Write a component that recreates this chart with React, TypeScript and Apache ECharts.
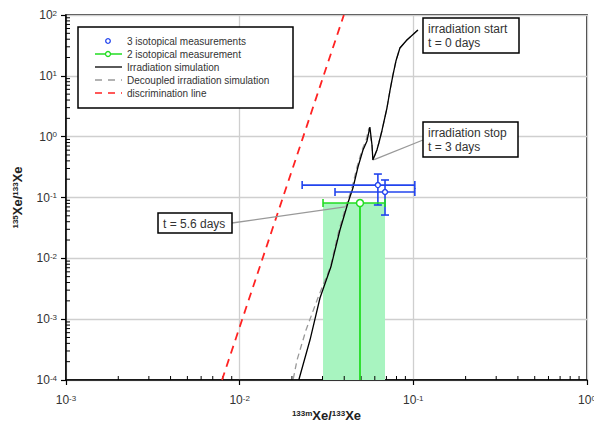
import React, { useEffect, useRef } from 'react';
import * as echarts from 'echarts';

// ---- axis decades ----
const xDecades = [-3, -2, -1, 0];
const yDecades = [-4, -3, -2, -1, 0, 1, 2];

// ---- irradiation simulation (solid black) ----
const irrX = [0.1063, 0.0918, 0.0837, 0.0794, 0.0763, 0.0733, 0.0705, 0.0659, 0.0633, 0.0617, 0.0585, 0.0578, 0.0562, 0.0541, 0.0513, 0.0480, 0.0449, 0.0420, 0.0378, 0.0335, 0.0290, 0.0254, 0.0219];
const irrY = [56.6, 38.8, 28.7, 17.5, 10.3, 5.64, 2.96, 1.24, 0.787, 0.604, 0.413, 0.730, 1.44, 0.849, 0.604, 0.317, 0.143, 0.0811, 0.0292, 0.00719, 0.00223, 0.000454, 0.0001];

// ---- decoupled irradiation simulation (grey dashed) ----
const decX = [0.1063, 0.0918, 0.0837, 0.0794, 0.0763, 0.0733, 0.0705, 0.0659, 0.0633, 0.0617, 0.0585, 0.0578, 0.0555, 0.0533, 0.0506, 0.0474, 0.0443, 0.0415, 0.0373, 0.0333, 0.0282, 0.0241, 0.0214, 0.0203];
const decY = [56.6, 38.8, 28.7, 17.5, 10.3, 5.64, 2.96, 1.24, 0.787, 0.604, 0.413, 0.730, 1.39, 0.849, 0.604, 0.317, 0.143, 0.0811, 0.0292, 0.00719, 0.00223, 0.000664, 0.000213, 0.0001];

// ---- discrimination line (red dashed) ----
const discX = [0.00791, 0.0398];
const discY = [0.0001, 100];

// ---- 3 isotopical measurements (blue) ----
const m3X = [0.0625, 0.0687];
const m3Y = [0.160, 0.123];
const m3XLo = [0.0229, 0.0354];
const m3XHi = [0.102, 0.102];
const m3YLo = [0.0753, 0.0515];
const m3YHi = [0.243, 0.194];

// ---- 2 isotopical measurement (green) ----
const m2X = [0.0493];
const m2Y = [0.0811];
const m2XLo = [0.0302];
const m2XHi = [0.0687];
const m2Floor = [0.0001];

// ---- texts ----
const legendLabels = [
  '3 isotopical measurements',
  '2 isotopical measurement',
  'Irradiation simulation',
  'Decoupled irradiation simulation',
  'discrimination line',
];
const noteStart = ['irradiation start', 't = 0 days'];
const noteStop = ['irradiation stop', 't = 3 days'];
const note56 = 't = 5.6 days';
const stopPoint = [0.0595, 0.42];
const day56Point = [0.0404, 0.070];

const FONT = '"Liberation Sans", Arial, sans-serif';
const BLUE = '#2244ee';
const GREEN = '#22dd22';
const FILL = '#a8f4c0';
const RED = '#ff2222';
const TXT = '#333';

const minorX: number[] = [];
xDecades.slice(0, -1).forEach((e) => { for (let k = 2; k <= 9; k++) minorX.push(k * Math.pow(10, e)); });
const minorY: number[] = [];
yDecades.slice(0, -1).forEach((e) => { for (let k = 2; k <= 9; k++) minorY.push(k * Math.pow(10, e)); });

const X_MIN = Math.pow(10, xDecades[0]);
const X_MAX = Math.pow(10, xDecades[xDecades.length - 1]);
const Y_MIN = Math.pow(10, yDecades[0]);
const Y_MAX = Math.pow(10, yDecades[yDecades.length - 1]);

const powLabel = (v: number) => `{b|10}{s|${Math.round(Math.log10(v))}}`;

const labelRich = {
  b: { fontSize: 12, color: TXT, fontFamily: FONT },
  s: { fontSize: 8, color: TXT, fontFamily: FONT, verticalAlign: 'top' as const },
};
const nameRich = {
  b: { fontSize: 13, fontWeight: 'bold' as const, color: '#222', fontFamily: FONT },
  s: { fontSize: 8, fontWeight: 'bold' as const, color: '#222', fontFamily: FONT, verticalAlign: 'top' as const },
};

function noteBox(x: number, y: number, w: number, h: number, lines: string[], ty: number) {
  return {
    type: 'group',
    z: 100,
    children: [
      { type: 'rect', shape: { x, y, width: w, height: h }, style: { fill: '#fff', stroke: '#000', lineWidth: 1.5 }, z: 100 },
      {
        type: 'text', x: x + 5, y: ty, z: 101,
        style: { text: lines.join('\n'), fontSize: 12, fontFamily: FONT, fill: TXT, lineHeight: 14, verticalAlign: 'top' },
      },
    ],
  };
}

export default function App() {
  const ref = useRef<HTMLDivElement>(null);
  useEffect(() => {
    if (!ref.current) return;
    const chart = echarts.init(ref.current, null, { renderer: 'svg' });

    const rowY = [41, 54, 67, 80, 93];
    const legendChildren: any[] = [
      { type: 'rect', shape: { x: 78, y: 27, width: 215, height: 81 }, style: { fill: '#fff', stroke: '#000', lineWidth: 1.5 }, z: 100 },
      { type: 'circle', shape: { cx: 108, cy: rowY[0], r: 2.3 }, style: { fill: '#fff', stroke: BLUE, lineWidth: 1.3 }, z: 101 },
      { type: 'line', shape: { x1: 95, y1: rowY[1], x2: 122, y2: rowY[1] }, style: { stroke: GREEN, lineWidth: 1.5 }, z: 101 },
      { type: 'circle', shape: { cx: 108, cy: rowY[1], r: 2.5 }, style: { fill: '#fff', stroke: GREEN, lineWidth: 1.3 }, z: 102 },
      { type: 'line', shape: { x1: 95, y1: rowY[2], x2: 122, y2: rowY[2] }, style: { stroke: '#000', lineWidth: 1.3 }, z: 101 },
      { type: 'line', shape: { x1: 95, y1: rowY[3], x2: 122, y2: rowY[3] }, style: { stroke: '#999', lineWidth: 1.3, lineDash: [7, 6] }, z: 101 },
      { type: 'line', shape: { x1: 95, y1: rowY[4], x2: 122, y2: rowY[4] }, style: { stroke: RED, lineWidth: 1.5, lineDash: [7, 6] }, z: 101 },
    ];
    legendLabels.forEach((t, i) => {
      legendChildren.push({
        type: 'text', x: 127, y: rowY[i], z: 101,
        style: { text: t, fontSize: 10, fontFamily: FONT, fill: TXT, verticalAlign: 'middle' },
      });
    });

    const option: any = {
      animation: false,
      backgroundColor: '#fff',
      grid: {
        left: 66, top: 15, width: 521, height: 365, show: true, borderColor: '#000', borderWidth: 1.5,
        backgroundColor: 'transparent', containLabel: false, outerBoundsMode: 'none',
      },
      xAxis: {
        type: 'log', logBase: 10, min: X_MIN, max: X_MAX,
        name: '{s|133m}{b|Xe/}{s|133}{b|Xe}', nameLocation: 'middle', nameGap: 29, nameMoveOverlap: false,
        nameTextStyle: { rich: nameRich },
        axisLine: { lineStyle: { color: '#000', width: 1.5 } },
        axisTick: { show: true, inside: false, length: 5, lineStyle: { color: '#000', width: 1.2 } },
        splitLine: { show: true, lineStyle: { color: '#cfcfcf', width: 1.3 } },
        axisLabel: { formatter: powLabel, rich: labelRich, margin: 14 },
      },
      yAxis: {
        type: 'log', logBase: 10, min: Y_MIN, max: Y_MAX,
        name: '{s|135}{b|Xe/}{s|133}{b|Xe}', nameLocation: 'middle', nameGap: 42, nameRotate: 90, nameMoveOverlap: false,
        nameTextStyle: { rich: nameRich },
        axisLine: { lineStyle: { color: '#000', width: 1.5 } },
        axisTick: { show: true, inside: false, length: 5, lineStyle: { color: '#000', width: 1.2 } },
        splitLine: { show: true, lineStyle: { color: '#cfcfcf', width: 1.3 } },
        axisLabel: { formatter: powLabel, rich: labelRich, margin: 9 },
      },
      series: [
        {
          name: 'fill', type: 'custom', z: 1, silent: true,
          data: m2X.map((_, i) => [m2XLo[i], m2XHi[i], m2Floor[i], m2Y[i]]),
          encode: { x: [0, 1], y: [2, 3] },
          renderItem: (params: any, api: any) => {
            const a = api.coord([api.value(0), api.value(3)]);
            const b = api.coord([api.value(1), api.value(2)]);
            return { type: 'rect', shape: { x: a[0], y: a[1], width: b[0] - a[0], height: b[1] - a[1] }, style: { fill: FILL } };
          },
        },
        {
          name: 'xminor', type: 'custom', z: 3, silent: true, clip: false,
          data: minorX.map((v) => [v, Y_MIN]),
          encode: { x: 0, y: 1 },
          renderItem: (params: any, api: any) => {
            const p = api.coord([api.value(0), api.value(1)]);
            return { type: 'line', shape: { x1: p[0], y1: p[1], x2: p[0], y2: p[1] - 4 }, style: { stroke: '#000', lineWidth: 1 } };
          },
        },
        {
          name: 'yminor', type: 'custom', z: 3, silent: true, clip: false,
          data: minorY.map((v) => [X_MIN, v]),
          encode: { x: 0, y: 1 },
          renderItem: (params: any, api: any) => {
            const p = api.coord([api.value(0), api.value(1)]);
            return { type: 'line', shape: { x1: p[0], y1: p[1], x2: p[0] + 4, y2: p[1] }, style: { stroke: '#000', lineWidth: 1 } };
          },
        },
        {
          name: legendLabels[4], type: 'line', z: 4, showSymbol: false, silent: true,
          data: discX.map((x, i) => [x, discY[i]]),
          lineStyle: { color: RED, width: 1.8, type: [8, 6] },
        },
        {
          name: legendLabels[3], type: 'line', z: 5, showSymbol: false, silent: true,
          data: decX.map((x, i) => [x, decY[i]]),
          lineStyle: { color: '#999', width: 1.3, type: [6, 4] },
        },
        {
          name: legendLabels[2], type: 'line', z: 6, showSymbol: false, silent: true,
          data: irrX.map((x, i) => [x, irrY[i]]),
          lineStyle: { color: '#000', width: 1.3 },
          markLine: {
            silent: true, symbol: ['none', 'triangle'], symbolSize: [0, 7],
            label: { show: false },
            lineStyle: { color: '#999', width: 1.3, type: 'solid' },
            emphasis: { disabled: true },
            data: [
              [{ x: 423, y: 140 }, { coord: stopPoint }],
              [{ x: 232, y: 223 }, { coord: day56Point }],
            ],
          },
        },
        {
          name: 'greenDrop', type: 'line', z: 7, showSymbol: false, silent: true,
          data: [[m2X[0], m2Y[0]], [m2X[0], m2Floor[0]]],
          lineStyle: { color: GREEN, width: 1.8 },
        },
        {
          name: 'errbars', type: 'custom', z: 8, silent: true,
          data: [
            ...m3X.map((x, i) => [x, m3Y[i], m3XLo[i], m3XHi[i], m3YLo[i], m3YHi[i], 0]),
            ...m2X.map((x, i) => [x, m2Y[i], m2XLo[i], m2XHi[i], m2Y[i], m2Y[i], 1]),
          ],
          encode: { x: 0, y: 1 },
          renderItem: (params: any, api: any) => {
            const x = api.value(0), y = api.value(1);
            const col = api.value(6) === 1 ? GREEN : BLUE;
            const l = api.coord([api.value(2), y]);
            const r = api.coord([api.value(3), y]);
            const lo = api.coord([x, api.value(4)]);
            const hi = api.coord([x, api.value(5)]);
            const st = { stroke: col, lineWidth: 1.6 };
            const c = 4;
            const kids: any[] = [
              { type: 'line', shape: { x1: l[0], y1: l[1], x2: r[0], y2: r[1] }, style: st },
              { type: 'line', shape: { x1: l[0], y1: l[1] - c, x2: l[0], y2: l[1] + c }, style: st },
              { type: 'line', shape: { x1: r[0], y1: r[1] - c, x2: r[0], y2: r[1] + c }, style: st },
            ];
            if (Math.abs(lo[1] - hi[1]) > 1) {
              kids.push(
                { type: 'line', shape: { x1: lo[0], y1: lo[1], x2: hi[0], y2: hi[1] }, style: st },
                { type: 'line', shape: { x1: lo[0] - c, y1: lo[1], x2: lo[0] + c, y2: lo[1] }, style: st },
                { type: 'line', shape: { x1: hi[0] - c, y1: hi[1], x2: hi[0] + c, y2: hi[1] }, style: st },
              );
            }
            return { type: 'group', children: kids };
          },
        },
        {
          name: legendLabels[0], type: 'scatter', z: 9, silent: true,
          data: m3X.map((x, i) => [x, m3Y[i]]),
          symbol: 'circle', symbolSize: 5,
          itemStyle: { color: '#fff', borderColor: BLUE, borderWidth: 1.4, opacity: 1 },
        },
        {
          name: legendLabels[1], type: 'scatter', z: 9, silent: true,
          data: m2X.map((x, i) => [x, m2Y[i]]),
          symbol: 'circle', symbolSize: 7,
          itemStyle: { color: '#fff', borderColor: GREEN, borderWidth: 1.5, opacity: 1 },
        },
      ],
      graphic: [
        { type: 'group', z: 100, children: legendChildren },
        noteBox(423, 18, 96, 35, noteStart, 22),
        noteBox(423, 122, 95, 35, noteStop, 126),
        noteBox(158, 213, 74, 20, [note56], 217),
      ],
    };
    chart.setOption(option);
    return () => chart.dispose();
  }, []);
  return <div ref={ref} style={{ position: 'fixed', left: 0, top: 0, width: 594, height: 423 }} />;
}
